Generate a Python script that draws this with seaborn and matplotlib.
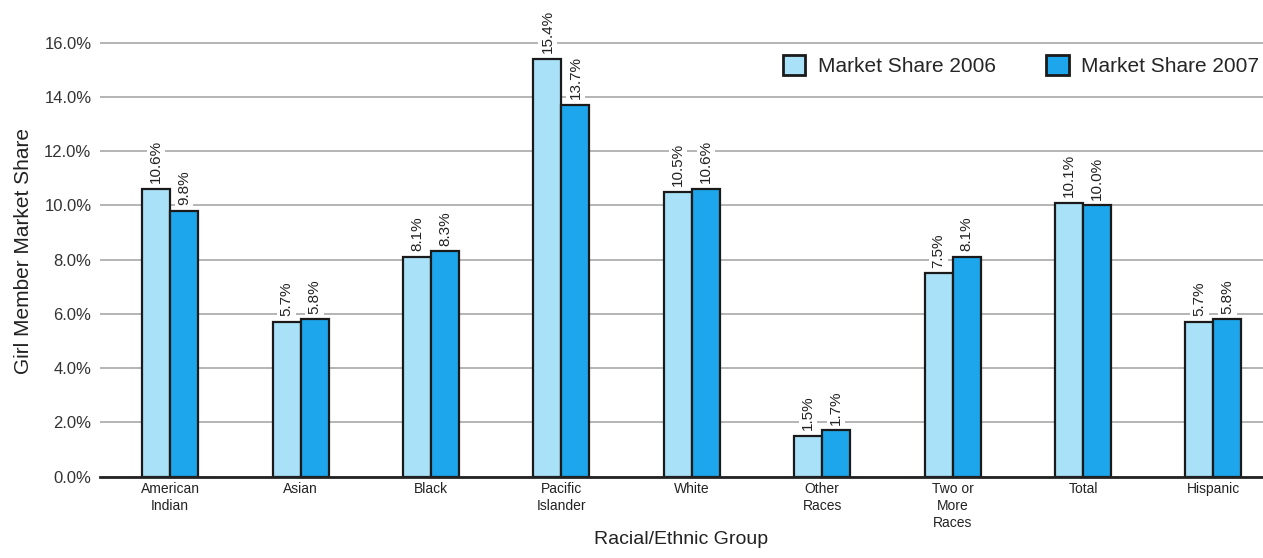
import pandas as pd
import matplotlib.pyplot as plt
import seaborn as sns
from matplotlib.ticker import FuncFormatter

sns.set_theme(style="white")
plt.rcParams['font.family'] = ['Liberation Sans', 'DejaVu Sans']

groups = ["American\nIndian", "Asian", "Black", "Pacific\nIslander", "White",
          "Other\nRaces", "Two or\nMore\nRaces", "Total", "Hispanic"]
share_2006 = [10.6, 5.7, 8.1, 15.4, 10.5, 1.5, 7.5, 10.1, 5.7]
share_2007 = [9.8, 5.8, 8.3, 13.7, 10.6, 1.7, 8.1, 10.0, 5.8]
series = ["Market Share 2006", "Market Share 2007"]
colors = ["#a9e2f8", "#1ea6ec"]

df = pd.DataFrame({
    "Group": groups * 2,
    "Share": share_2006 + share_2007,
    "Series": [series[0]] * len(groups) + [series[1]] * len(groups),
})

fig, ax = plt.subplots(figsize=(12.63, 5.58), dpi=100)
fig.subplots_adjust(left=0.079, right=1.0, bottom=0.146, top=0.953)

sns.barplot(data=df, x="Group", y="Share", hue="Series", palette=colors, saturation=1,
            width=0.43, edgecolor="#1a1a1a", linewidth=1.6, ax=ax, zorder=3)

for cont, vals in zip(ax.containers, [share_2006, share_2007]):
    ax.bar_label(cont, labels=[f"{v}%" for v in vals], rotation=90, padding=4,
                 fontsize=11, color="#222222",
                 bbox=dict(facecolor="white", edgecolor="none", pad=1.5))

ax.set_ylim(0, 16.6)
ax.set_xlim(-0.54, 8.38)
ax.set_yticks([0, 2, 4, 6, 8, 10, 12, 14, 16])
ax.yaxis.set_major_formatter(FuncFormatter(lambda v, p: f"{v:.1f}%"))
ax.tick_params(axis="y", labelsize=12, length=0, pad=6, labelcolor="#333333")
ax.tick_params(axis="x", labelsize=10, length=0, pad=4, labelcolor="#222222")
for t in ax.get_xticklabels():
    t.set_linespacing(1.25)

ax.yaxis.grid(True, color="#a0a0a0", linewidth=1.1)
ax.set_axisbelow(True)
for s in ["top", "right", "left"]:
    ax.spines[s].set_visible(False)
ax.spines["bottom"].set_color("#222222")
ax.spines["bottom"].set_linewidth(2)
ax.spines["bottom"].set_zorder(4)

ax.set_ylabel("Girl Member Market Share", fontsize=15, color="#222222", labelpad=8)
ax.set_xlabel("Racial/Ethnic Group", fontsize=14, color="#222222", labelpad=1)

ax.get_legend().remove()
handles = [plt.Rectangle((0, 0), 1, 1, facecolor=c, edgecolor="#1a1a1a", linewidth=2) for c in colors]
fig.legend(handles, series, loc="upper right", bbox_to_anchor=(1.012, 0.935), ncol=2,
           frameon=False, fontsize=15, handlelength=1.1, handleheight=1.1,
           handletextpad=0.6, columnspacing=2.4)

fig.savefig("out.png", dpi=100)
